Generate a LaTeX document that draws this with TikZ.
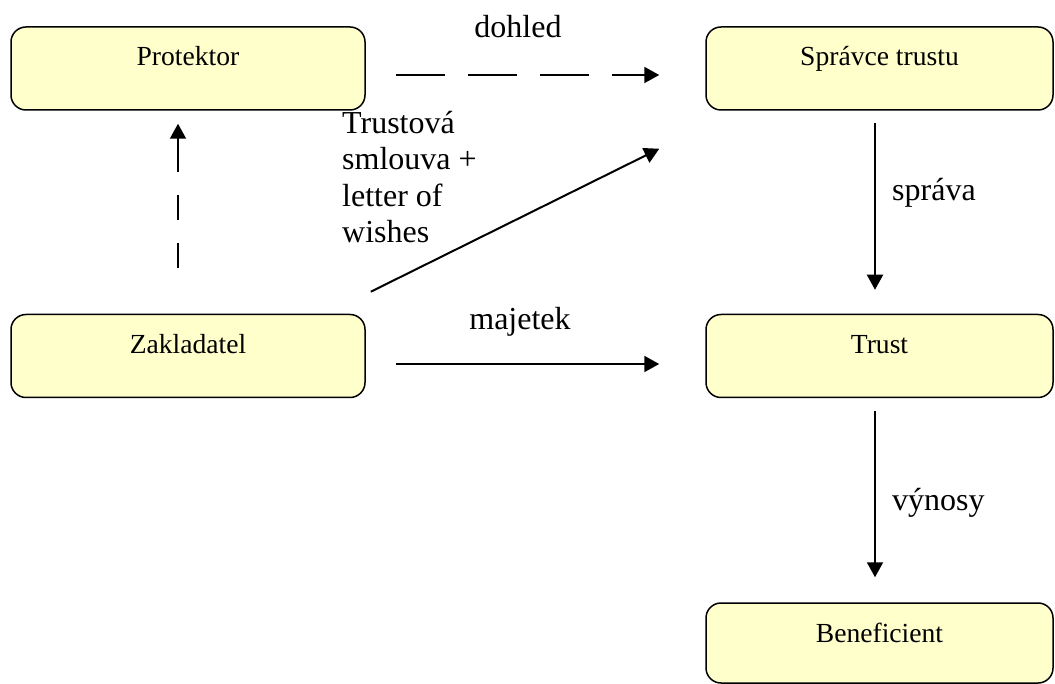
\documentclass[tikz,border=0pt]{standalone}
\usepackage{fontspec}
\setmainfont{Liberation Serif}
\usetikzlibrary{arrows.meta}
\definecolor{boxfill}{RGB}{255,255,204}
\tikzset{
  box/.style={draw=black, line width=1.5pt, fill=boxfill, rounded corners=15pt,
    inner sep=0pt, text height=39pt, text depth=44pt, font=\fontsize{27.6}{30}\selectfont},
  lbox/.style={box, minimum width=354pt},
  rbox/.style={box, minimum width=347pt},
  conn/.style={line width=2pt, -{Triangle[length=15pt,width=16pt]}},
  edgelabel/.style={font=\fontsize{32}{36.5}\selectfont, inner sep=0pt}
}
\begin{document}
\begin{tikzpicture}[x=1pt,y=-1pt]
\useasboundingbox (0,0) rectangle (1055,684);
\node[lbox] (p) at (188,68.5) {Protektor};
\node[lbox] (z) at (188,356) {Zakladatel};
\node[rbox] (s) at (879.5,68.5) {Správce trustu};
\node[rbox] (t) at (879.5,356) {Trust};
\node[rbox, text depth=41pt] (b) at (879.5,643) {Beneficient};

% dohled
\draw[conn, dash pattern=on 49pt off 23pt] ([shift={(30,6.5)}]p.east) -- ([shift={(-46,6.5)}]s.west);
\node[edgelabel] (ldohled) at (518,27) {dohled};

% zakladatel -> protektor
\draw[conn, dash pattern=on 25pt off 23pt on 25pt off 23pt on 60pt off 1pt]
  ([shift={(-10,-46)}]z.north) -- ([shift={(-10,13)}]p.south);

% trustova smlouva
\draw[conn] ([shift={(5,-22)}]z.north east) -- ([shift={(-46,38)}]s.south west);
\node[edgelabel, anchor=north west, align=left] (ltrust) at (342,111) {Trustová\\smlouva +\\letter of\\wishes};

% majetek
\draw[conn] ([shift={(30,8)}]z.east) -- ([shift={(-46,8)}]t.west);
\node[edgelabel] (lmaj) at (520,322) {majetek};

% sprava
\draw[conn] ([shift={(-4.5,12)}]s.south) -- ([shift={(-4.5,-24)}]t.north);
\node[edgelabel, anchor=west] (lspr) at (892,193) {správa};

% vynosy
\draw[conn] ([shift={(-4.5,12.5)}]t.south) -- ([shift={(-4.5,-25)}]b.north);
\node[edgelabel, anchor=west] (lvyn) at (892,503) {výnosy};
\end{tikzpicture}
\end{document}
